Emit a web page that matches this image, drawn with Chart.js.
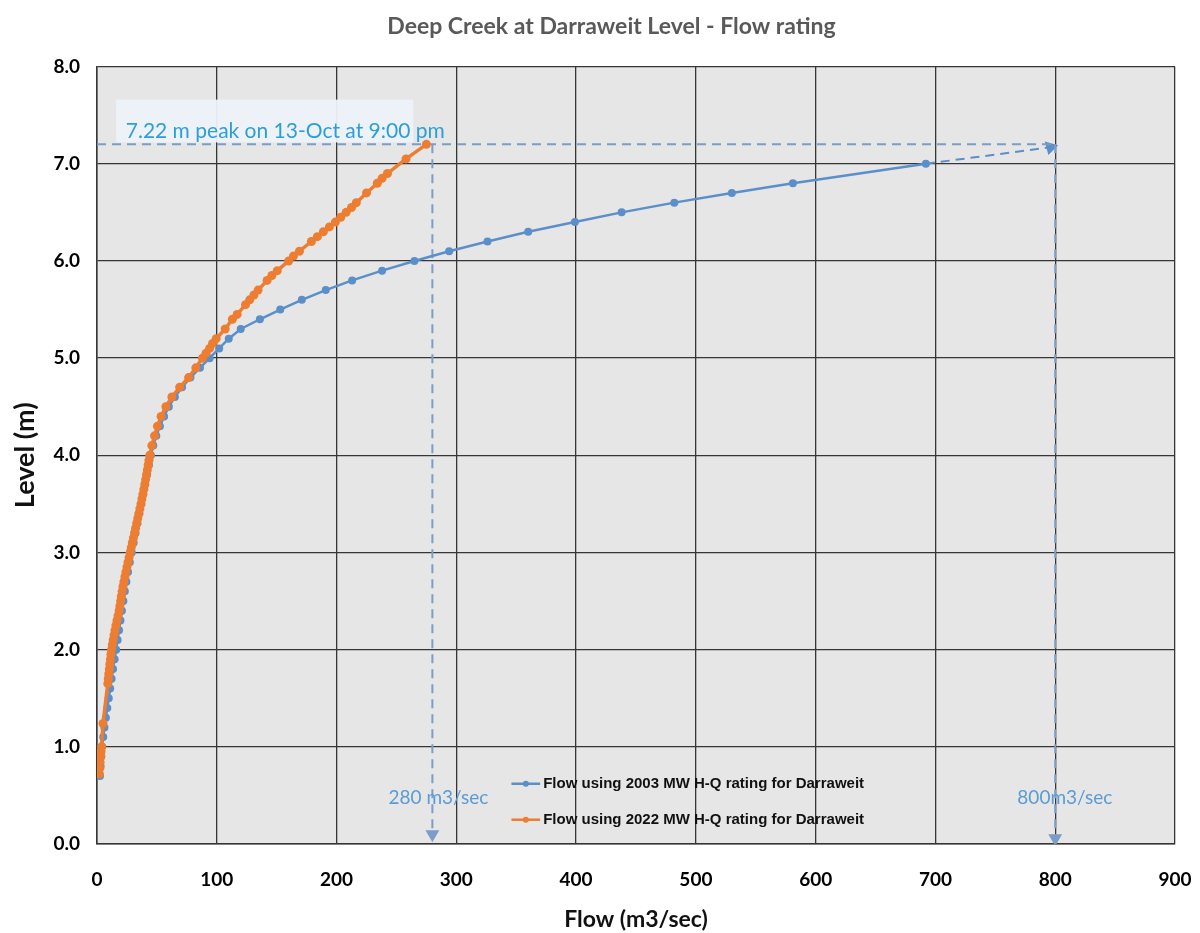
<!DOCTYPE html>
<html>
<head>
<meta charset="utf-8">
<script src="https://cdn.jsdelivr.net/npm/chart.js@4.4.0/dist/chart.umd.min.js"></script>
<style>
html, body { margin: 0; padding: 0; background: #fff; }
#wrap { width: 1200px; height: 933px; }
</style>
</head>
<body>
<div id="wrap"><canvas id="rating" width="1200" height="933"></canvas></div>
<script>
// 2003 MW H-Q rating (flow m3/sec vs level m)
const level2003 = [0.7, 0.8, 0.9, 1.0, 1.1, 1.2, 1.3, 1.4, 1.5, 1.6, 1.7, 1.8, 1.9, 2.0, 2.1, 2.2, 2.3, 2.4, 2.5, 2.6,
    2.7, 2.8, 2.9, 3.0, 3.1, 3.2, 3.3, 3.4, 3.5, 3.6, 3.7, 3.8, 3.9, 4.0, 4.1, 4.2, 4.3, 4.4, 4.5, 4.6,
    4.7, 4.8, 4.9, 5.0, 5.1, 5.2, 5.3, 5.4, 5.5, 5.6, 5.7, 5.8, 5.9, 6.0, 6.1, 6.2, 6.3, 6.4, 6.5, 6.6,
    6.7, 6.8, 7.0];
const flow2003 = [2.5, 3.0, 3.6, 4.3, 5.2, 6.2, 7.4, 8.6, 9.8, 11.0, 12.2, 13.4, 14.7, 16.0, 17.2, 18.4, 19.6, 20.8, 22.0, 23.2,
    24.5, 25.9, 27.4, 29.0, 30.6, 32.2, 33.8, 35.4, 37.0, 38.6, 40.2, 41.8, 43.4, 45.0, 47.0, 49.5, 52.5, 56.0, 60.0, 65.0,
    71.0, 78.0, 86.0, 94.0, 102, 110, 120, 136, 153, 171, 191, 213, 238, 265, 294, 326, 360, 399, 438, 482,
    530, 581, 692];

// 2022 MW H-Q rating
const level2022 = [0.72, 0.78, 0.84, 0.9, 0.95, 1.0, 1.24, 1.65, 1.7, 1.75, 1.8, 1.85, 1.9, 1.95, 2.0,
    2.05, 2.1, 2.15, 2.2, 2.25, 2.3, 2.35, 2.4, 2.45, 2.5, 2.55, 2.6, 2.65, 2.7, 2.75, 2.8,
    2.85, 2.9, 2.95, 3.0, 3.05, 3.1, 3.15, 3.2, 3.25, 3.3, 3.35, 3.4, 3.45, 3.5, 3.55, 3.6,
    3.65, 3.7, 3.75, 3.8, 3.85, 3.9, 3.95, 4.0, 4.1, 4.2, 4.3, 4.4, 4.5, 4.6, 4.7, 4.8, 4.9,
    5.0, 5.05, 5.1, 5.15, 5.2, 5.3, 5.4, 5.45, 5.55, 5.6, 5.65, 5.7, 5.8, 5.85, 5.9, 6.0, 6.05, 6.1,
    6.2, 6.25, 6.3, 6.35, 6.4, 6.45, 6.5, 6.55, 6.6, 6.7, 6.8, 6.85, 6.9, 7.05, 7.2];
const flow2022 = [2.0, 2.3, 2.6, 3.0, 3.4, 3.8, 5.0, 9.0, 9.4, 9.8, 10.3, 10.7, 11.2, 11.6, 12.1,
    12.8, 13.5, 14.2, 15.0, 15.8, 16.7, 17.6, 18.5, 19.1, 19.7, 20.3, 21.0, 21.7, 22.5, 23.3, 24.1,
    25.0, 25.9, 26.8, 27.7, 28.6, 29.5, 30.4, 31.3, 32.2, 33.1, 34.0, 34.9, 35.8, 36.7, 37.5, 38.3,
    39.1, 39.9, 40.6, 41.3, 42.0, 42.7, 43.4, 44.1, 45.8, 48.0, 50.5, 53.5, 57.5, 62.5, 69.0, 76.5, 82.5,
    88.0, 91.0, 94.0, 96.5, 99.5, 107, 113, 117, 124, 127.5, 131, 134.5, 142, 146, 150.5, 160, 164, 169,
    179, 184, 189, 194, 199, 203.5, 208, 212.5, 216.5, 225, 234, 238, 242.5, 258, 275];

// peak markers
const peakLevel = 7.2;
const peakFlow2022 = 280;
const peakFlow2003 = 800;
const extFlow2003 = [692, 796];
const extLevel2003 = [7.0, 7.17];

const seriesLabels = ["Flow using 2003 MW H-Q rating for Darraweit", "Flow using 2022 MW H-Q rating for Darraweit"];
const xTicks = [0, 100, 200, 300, 400, 500, 600, 700, 800, 900];
const yTicks = [0, 1, 2, 3, 4, 5, 6, 7, 8];

const BLUE = "#5b8fc9";
const ORANGE = "#ed7d31";
const DASH = "#7d9cc6";
const GRID = "#363636";

const toPoints = (xs, ys) => xs.map((x, i) => ({ x, y: ys[i] }));

Chart.defaults.font.family = "Lato, 'Open Sans', sans-serif";

const plotBg = {
    id: "plotBg",
    beforeDraw(chart) {
        const { ctx, chartArea: a } = chart;
        ctx.save();
        ctx.fillStyle = "#e6e6e6";
        ctx.fillRect(a.left, a.top, a.right - a.left, a.bottom - a.top);
        ctx.restore();
    }
};

const overlay = {
    id: "overlay",
    beforeDatasetsDraw(chart) {
        // pale label box behind peak note
        const { ctx, scales: { x, y } } = chart;
        ctx.save();
        ctx.fillStyle = "rgba(236,242,249,0.95)";
        const l = x.getPixelForValue(16), r = x.getPixelForValue(264);
        const t = y.getPixelForValue(7.66), b = y.getPixelForValue(7.22);
        ctx.fillRect(l, t, r - l, b - t);
        ctx.restore();
    },
    afterDatasetsDraw(chart) {
        const { ctx, scales: { x, y } } = chart;
        ctx.save();
        // peak note
        ctx.fillStyle = "#2e9fd6";
        ctx.font = "21px Lato";
        ctx.textBaseline = "middle";
        ctx.textAlign = "left";
        ctx.fillText("7.22 m peak on 13-Oct at 9:00 pm", x.getPixelForValue(24), y.getPixelForValue(7.34));

        // flow labels
        ctx.fillStyle = "#5b9bd5";
        ctx.font = "19px Lato";
        ctx.textAlign = "center";
        ctx.fillText("280 m3/sec", x.getPixelForValue(285), y.getPixelForValue(0.47));
        ctx.fillText("800m3/sec", x.getPixelForValue(808), y.getPixelForValue(0.47));

        // legend
        const rows = [{ c: BLUE, lv: 0.62 }, { c: ORANGE, lv: 0.25 }];
        rows.forEach((row, i) => {
            const yy = y.getPixelForValue(row.lv);
            const x0 = x.getPixelForValue(346), x1 = x.getPixelForValue(370);
            ctx.strokeStyle = row.c;
            ctx.lineWidth = 2.5;
            ctx.beginPath();
            ctx.moveTo(x0, yy);
            ctx.lineTo(x1, yy);
            ctx.stroke();
            ctx.fillStyle = row.c;
            ctx.beginPath();
            ctx.arc((x0 + x1) / 2, yy, 3, 0, Math.PI * 2);
            ctx.fill();
            ctx.fillStyle = "#111";
            ctx.font = "bold 15px 'Liberation Sans Narrow', 'Liberation Sans'";
            ctx.textAlign = "left";
            ctx.fillText(seriesLabels[i], x1 + 3, yy);
        });
        ctx.restore();
    }
};

const dashLine = (data, rot) => ({
    data,
    showLine: true,
    borderColor: DASH,
    backgroundColor: DASH,
    borderWidth: 2,
    borderDash: [9, 6],
    pointStyle: "triangle",
    pointRadius: data.map((p, i) => (i === data.length - 1 && rot !== null ? 6 : 0)),
    pointRotation: rot || 0,
    order: 2
});

new Chart(document.getElementById("rating").getContext("2d"), {
    type: "scatter",
    data: {
        datasets: [
            {
                label: seriesLabels[1],
                data: toPoints(flow2022, level2022),
                showLine: true,
                borderColor: ORANGE,
                backgroundColor: ORANGE,
                borderWidth: 3.5,
                pointRadius: 4.5,
                pointBorderWidth: 0,
                order: 0
            },
            {
                label: seriesLabels[0],
                data: toPoints(flow2003, level2003),
                showLine: true,
                borderColor: BLUE,
                backgroundColor: BLUE,
                borderWidth: 2.5,
                pointRadius: 4,
                pointBorderWidth: 0,
                order: 1
            },
            dashLine([{ x: 0, y: peakLevel }, { x: peakFlow2003, y: peakLevel }], null),
            dashLine([{ x: peakFlow2022, y: peakLevel }, { x: peakFlow2022, y: 0.1 }], 180),
            dashLine([{ x: peakFlow2003, y: peakLevel }, { x: peakFlow2003, y: 0.06 }], 180),
            Object.assign(dashLine(toPoints(extFlow2003, extLevel2003), 75), { borderColor: BLUE, backgroundColor: BLUE })
        ]
    },
    options: {
        responsive: false,
        animation: false,
        layout: { padding: { left: 48, right: 25, top: 0, bottom: 0 } },
        plugins: {
            legend: { display: false },
            tooltip: { enabled: false },
            title: {
                display: true,
                text: "Deep Creek at Darraweit Level - Flow rating",
                color: "#595959",
                font: { size: 23, weight: "bold" },
                padding: { top: 13, bottom: 26 }
            }
        },
        scales: {
            x: {
                type: "linear",
                min: 0,
                max: 900,
                afterBuildTicks: s => { s.ticks = xTicks.map(v => ({ value: v })); },
                afterFit: s => { s.height = 89; s.paddingRight = 0; s.paddingLeft = 0; },
                ticks: { color: "#000", font: { size: 19, weight: "bold" }, padding: 24 },
                grid: { color: GRID, lineWidth: 1.3, drawTicks: false },
                border: { color: GRID, width: 1.5 },
                title: {
                    display: true,
                    text: "Flow (m3/sec)",
                    color: "#111",
                    font: { size: 23, weight: "bold" },
                    padding: { top: 0, bottom: 0 }
                }
            },
            y: {
                min: 0,
                max: 8,
                afterBuildTicks: s => { s.ticks = yTicks.map(v => ({ value: v })); },
                afterFit: s => { s.width = 49; },
                ticks: { color: "#000", font: { size: 19, weight: "bold" }, padding: 17, callback: v => v.toFixed(1) },
                grid: { color: GRID, lineWidth: 1.3, drawTicks: false },
                border: { color: GRID, width: 1.5 },
                title: {
                    display: true,
                    text: "Level (m)",
                    color: "#111",
                    font: { size: 27, weight: "bold" },
                    padding: { top: -39, bottom: 0 }
                }
            }
        }
    },
    plugins: [plotBg, overlay]
});
</script>
</body>
</html>
